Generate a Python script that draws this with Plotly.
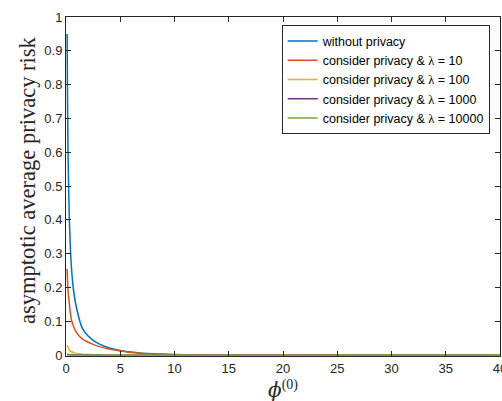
import plotly.graph_objects as go

phi = [0.1, 0.15, 0.2, 0.3, 0.4, 0.5, 0.7, 1, 1.5, 2, 2.5, 3, 4, 5, 6, 7, 8, 10, 12, 15, 20, 25, 30, 35, 40]

risk_no_privacy = [0.95, 0.72, 0.57, 0.41, 0.32, 0.26, 0.19, 0.135, 0.08, 0.058, 0.044, 0.034, 0.021, 0.014, 0.009, 0.006, 0.004, 0.002, 0.001, 0.0005, 0.0002, 0.0001, 0.00005, 0.00003, 0.00002]
risk_lambda_10 = [0.255, 0.215, 0.185, 0.155, 0.125, 0.105, 0.085, 0.065, 0.048, 0.039, 0.032, 0.026, 0.018, 0.012, 0.008, 0.005, 0.0035, 0.0015, 0.0008, 0.0003, 0.0001, 0.00005, 0.00003, 0.00002, 0.00001]
risk_lambda_100 = [0.03, 0.026, 0.022, 0.016, 0.012, 0.01, 0.007, 0.005, 0.003, 0.002, 0.0015, 0.001, 0.0006, 0.0004, 0.0003, 0.0002, 0.00015, 0.0001, 0.00005, 0.00003, 0.00001, 0.00001, 0.0, 0.0, 0.0]
risk_lambda_1000 = [0.003, 0.0026, 0.0022, 0.0016, 0.0012, 0.001, 0.0007, 0.0005, 0.0003, 0.0002, 0.00015, 0.0001, 0.00006, 0.00004, 0.00003, 0.00002, 0.00001, 0.00001, 0.0, 0.0, 0.0, 0.0, 0.0, 0.0, 0.0]
risk_lambda_10000 = [0.0003, 0.00026, 0.00022, 0.00016, 0.00012, 0.0001, 0.00007, 0.00005, 0.00003, 0.00002, 0.00001, 0.00001, 0.0, 0.0, 0.0, 0.0, 0.0, 0.0, 0.0, 0.0, 0.0, 0.0, 0.0, 0.0, 0.0]

series_names = [
    "without privacy",
    "consider privacy & <span style='font-family:Liberation Serif'>λ</span> = 10",
    "consider privacy & <span style='font-family:Liberation Serif'>λ</span> = 100",
    "consider privacy & <span style='font-family:Liberation Serif'>λ</span> = 1000",
    "consider privacy & <span style='font-family:Liberation Serif'>λ</span> = 10000",
]
series_values = [risk_no_privacy, risk_lambda_10, risk_lambda_100, risk_lambda_1000, risk_lambda_10000]
colors = ["#0072BD", "#D95319", "#EDB120", "#7E2F8E", "#77AC30"]

x_ticks = [0, 5, 10, 15, 20, 25, 30, 35, 40]
y_ticks = [0, 0.1, 0.2, 0.3, 0.4, 0.5, 0.6, 0.7, 0.8, 0.9, 1]
y_tick_labels = ["0", "0.1", "0.2", "0.3", "0.4", "0.5", "0.6", "0.7", "0.8", "0.9", "1"]

x_title = "<span style='font-family:DejaVu Serif'><i>ϕ</i></span><sup>(0)</sup>"
y_title = "asymptotic average privacy risk"

fig = go.Figure()
for name, vals, c in zip(series_names, series_values, colors):
    fig.add_trace(go.Scatter(x=phi, y=vals, mode="lines", name=name,
                             line=dict(color=c, width=1.5, shape="spline", smoothing=0.6)))

axis_common = dict(showline=True, linecolor="#262626", linewidth=1, mirror="ticks",
                   ticks="inside", ticklen=5, tickcolor="#262626", showgrid=False,
                   zeroline=False, automargin=False, ticklabeloverflow="allow",
                   tickfont=dict(family="Liberation Sans", size=13, color="#262626"))

fig.update_xaxes(range=[0, 40], tickvals=x_ticks, ticktext=[str(t) for t in x_ticks], **axis_common)
fig.update_yaxes(range=[-0.0025, 1], tickvals=y_ticks, ticktext=y_tick_labels, **axis_common)

fig.add_annotation(text=x_title, xref="paper", yref="paper", x=0.5, y=-0.055,
                   xanchor="center", yanchor="top", showarrow=False,
                   font=dict(family="Liberation Serif", size=20, color="#262626"))
fig.add_annotation(text=y_title, xref="paper", yref="paper", x=-0.09, y=0.519,
                   xanchor="center", yanchor="middle", textangle=-90, showarrow=False,
                   font=dict(family="Liberation Serif", size=22.5, color="#262626"))

fig.update_layout(
    width=502, height=401,
    margin=dict(l=66, r=2, t=17, b=45),
    paper_bgcolor="white", plot_bgcolor="white",
    showlegend=True,
    legend=dict(x=0.497, y=0.975, xanchor="left", yanchor="top",
                bordercolor="#262626", borderwidth=1, bgcolor="white",
                font=dict(family="Liberation Sans", size=12.5, color="#000000"),
                tracegroupgap=0, itemwidth=30),
)

fig.write_html("out.html", config={"displayModeBar": False},
               post_script="document.body.style.margin='0';")
